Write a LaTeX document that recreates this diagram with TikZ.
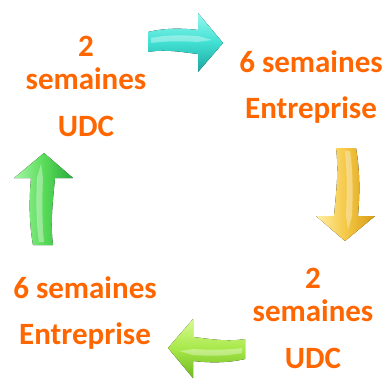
\documentclass[tikz,border=0pt]{standalone}
\usepackage{fontspec}
\setmainfont{Carlito}
\definecolor{txtorange}{RGB}{255,102,0}
\definecolor{cyanarr}{RGB}{64,224,210}
\definecolor{cyanarrL}{RGB}{150,248,240}
\definecolor{cyanarrD}{RGB}{30,165,160}
\definecolor{goldarr}{RGB}{245,200,70}
\definecolor{goldarrL}{RGB}{255,240,165}
\definecolor{goldarrD}{RGB}{215,155,20}
\definecolor{limearr}{RGB}{168,232,74}
\definecolor{limearrL}{RGB}{215,250,145}
\definecolor{limearrD}{RGB}{110,185,30}
\definecolor{greenarr}{RGB}{90,220,90}
\definecolor{greenarrL}{RGB}{165,245,165}
\definecolor{greenarrD}{RGB}{40,170,60}
\tikzset{lbl/.style={text=txtorange, font=\fontsize{31}{33}\selectfont\bfseries, align=center, inner sep=0pt}}
\newcommand{\cycarr}[5]{%
  \begin{scope}[shift={#1},rotate=#2]
    \fill[top color=#4L, bottom color=#4D, middle color=#4, shading angle=#5]
      (0,-10) .. controls ({#3/3},-14) and ({2*#3/3},-14) .. (#3,-12) -- (#3,-29)
      -- ({#3+25},1) -- (#3,30) -- (#3,12) .. controls ({2*#3/3},10) and ({#3/3},7) .. (0,10) -- cycle;
    \fill[white, opacity=.35]
      (3,-4) .. controls ({#3/3},-7) and ({2*#3/3},-7) .. (#3,-6) -- ({#3+14},-2)
      -- (#3,0) .. controls ({2*#3/3},-1) and ({#3/3},-1) .. (3,1) -- cycle;
  \end{scope}}
\begin{document}
\begin{tikzpicture}[x=1pt,y=-1pt]
  \useasboundingbox (0,0) rectangle (390,385);
  \node[lbl] (udcA) at (86,86) {2\\semaines\\[14pt]UDC};
  \node[lbl] (entA) at (311,87) {6 semaines\\[13pt]Entreprise};
  \node[lbl] (udcB) at (313,318) {2\\semaines\\[14pt]UDC};
  \node[lbl] (entB) at (85,313) {6 semaines\\[13pt]Entreprise};
  \cycarr{(148,42)}{0}{50}{cyanarr}{0}
  \cycarr{(346,148)}{-90}{68}{goldarr}{90}
  \cycarr{(245,349)}{180}{52}{limearr}{0}
  \cycarr{(43,245)}{90}{67}{greenarr}{90}
\end{tikzpicture}
\end{document}
